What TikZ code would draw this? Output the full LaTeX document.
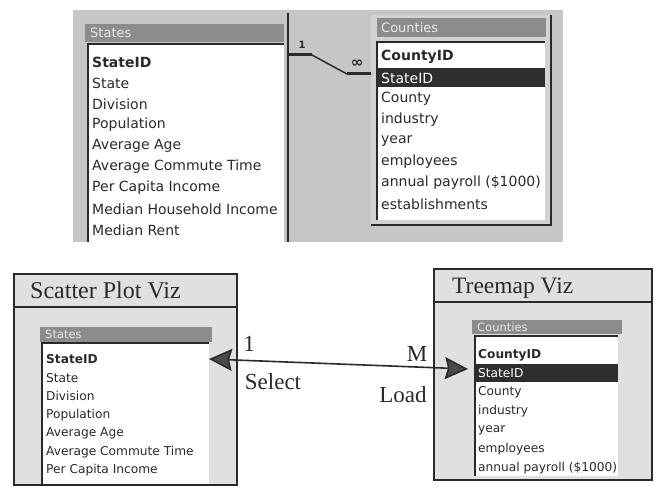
\documentclass[tikz,border=0pt]{standalone}
\usepackage{fontspec}
\setmainfont{Liberation Serif}
\newfontfamily\winfont{DejaVu Sans}
\usetikzlibrary{arrows.meta,calc}
\definecolor{panelgray}{HTML}{C6C6C6}
\definecolor{framegray}{HTML}{D2D2D2}
\definecolor{bargray}{HTML}{8C8C8C}
\definecolor{bartext}{HTML}{E8E8E8}
\definecolor{hlgray}{HTML}{2E2E2E}
\definecolor{vizgray}{HTML}{E0E0E0}
\definecolor{ink}{HTML}{2A2A2A}
\definecolor{headgray}{HTML}{4A4A4A}
\begin{document}
\begin{tikzpicture}[x=1pt,y=-1pt,
  rect/.style={anchor=north west, inner sep=0pt, outer sep=0pt},
  listbox/.style={rect, fill=white},
  titlebar/.style={rect, fill=bargray},
  hlrow/.style={rect, fill=hlgray},
  bigitem/.style={anchor=west, inner sep=0pt, text=ink, font=\winfont\fontsize{14}{14}\selectfont},
  smallitem/.style={anchor=west, inner sep=0pt, text=ink, font=\winfont\fontsize{12.2}{12}\selectfont},
  bigtitle/.style={anchor=west, inner sep=0pt, text=bartext, font=\winfont\fontsize{13}{13}\selectfont},
  smalltitle/.style={anchor=west, inner sep=0pt, text=bartext, font=\winfont\fontsize{11.5}{11.5}\selectfont},
  vizbox/.style={rect, fill=vizgray, draw=ink, line width=2.5pt},
  vizname/.style={anchor=base west, inner sep=0pt, text=ink, font=\fontsize{24}{24}\selectfont},
  arrlabel/.style={inner sep=0pt, text=ink, font=\fontsize{23}{23}\selectfont},
  sunken/.style={draw=ink, line width=1.5pt},
  relline/.style={draw=ink, line width=1.5pt},
  relstub/.style={draw=ink, line width=3pt},
  linkarrow/.style={draw=ink, line width=1.6pt,
    {Stealth[length=23pt,width=22pt,inset=3pt,fill=headgray]}-{Stealth[length=23pt,width=22pt,inset=3pt,fill=headgray]}}
]
\useasboundingbox (0,0) rectangle (657,487);
\fill[white] (0,0) rectangle (657,487);

% ---------- top: Access relationship screenshot ----------
\node[rect, fill=panelgray, minimum width=490, minimum height=232] (toppanel) at (73,10) {};

% States window
\node[titlebar, minimum width=199, minimum height=18] (tst) at (85,24) {};
\node[bigtitle] (tstT) at (90,33) {States};
\node[listbox, minimum width=196, minimum height=198] (tsl) at (88,44) {};
\draw[sunken] (tsl.south west) -- (tsl.north west) -- (tsl.north east);
\draw[ink, line width=2pt] (288,13) -- (288,242);
\node[bigitem, font=\winfont\bfseries\fontsize{14}{14}\selectfont] (ts1) at (92,62) {StateID};
\node[bigitem] (ts2) at (92,83) {State};
\node[bigitem] (ts3) at (92,104) {Division};
\node[bigitem] (ts4) at (92,125) {Population};
\node[bigitem] (ts5) at (92,146) {Average Age};
\node[bigitem] (ts6) at (92,167) {Average Commute Time};
\node[bigitem] (ts7) at (92,188) {Per Capita Income};
\node[bigitem] (ts8) at (92,209) {Median Household Income};
\node[bigitem] (ts9) at (92,230) {Median Rent};

% Counties window
\node[rect, fill=framegray, minimum width=180, minimum height=210] (tcw) at (371,15) {};
\draw[ink, line width=1.5pt] (tcw.north east) -- (tcw.south east) -- (tcw.south west);
\node[titlebar, minimum width=169, minimum height=19] (tct) at (377,18) {};
\node[bigtitle] (tctT) at (381,27.5) {Counties};
\node[listbox, minimum width=168, minimum height=178] (tcl) at (377,42) {};
\draw[sunken] (tcl.south west) -- (tcl.north west) -- (tcl.north east);
\node[hlrow, minimum width=168, minimum height=19] (tcsid) at (377,68) {};
\node[bigitem, font=\winfont\bfseries\fontsize{14}{14}\selectfont] (tc1) at (381,57) {CountyID};
\node[bigitem, text=white] (tc2) at (381,78) {StateID};
\node[bigitem] (tc3) at (381,99) {County};
\node[bigitem] (tc4) at (381,120) {industry};
\node[bigitem] (tc5) at (381,141) {year};
\node[bigitem] (tc6) at (381,162) {employees};
\node[bigitem] (tc7) at (381,183) {annual payroll (\$1000)};
\node[bigitem] (tc8) at (381,204) {establishments};

% relationship line
\coordinate (relA) at (288,55);
\coordinate (relB) at (tcw.west |- 0,74);
\draw[relline] (relA) -- ($(relA)+(24,0)$) -- ($(relB)+(-24,0)$) -- (relB);
\draw[relstub] (relA) -- ($(relA)+(24,0)$);
\draw[relstub] ($(relB)+(-24,0)$) -- (relB);
\node[inner sep=0pt, text=ink, font=\winfont\bfseries\fontsize{10}{10}\selectfont] (one) at (302,45) {1};
\node[inner sep=0pt, text=ink, font=\winfont\bfseries\fontsize{15}{15}\selectfont] (many) at (357,64) {∞};

% ---------- bottom: coordinated views ----------
% Scatter Plot Viz
\node[vizbox, minimum width=223, minimum height=211] (scat) at (14,274) {};
\draw[ink, line width=2pt] (scat.west |- 0,307) -- (scat.east |- 0,307);
\node[vizname] (scatT) at (30,298) {Scatter Plot Viz};
\node[titlebar, minimum width=172, minimum height=15] (bst) at (40,327) {};
\node[smalltitle] (bstT) at (45,334.5) {States};
\node[listbox, minimum width=167, minimum height=141] (bsl) at (42,343) {};
\draw[sunken, line width=1.2pt] (bsl.south west) -- (bsl.north west) -- (bsl.north east);
\node[smallitem, font=\winfont\bfseries\fontsize{12.2}{12}\selectfont] (bs1) at (46,359) {StateID};
\node[smallitem] (bs2) at (46,377.6) {State};
\node[smallitem] (bs3) at (46,396.2) {Division};
\node[smallitem] (bs4) at (46,414.8) {Population};
\node[smallitem] (bs5) at (46,433.4) {Average Age};
\node[smallitem] (bs6) at (46,452) {Average Commute Time};
\node[smallitem] (bs7) at (46,470.6) {Per Capita Income};

% Treemap Viz
\node[vizbox, minimum width=218, minimum height=211] (tree) at (434,269) {};
\draw[ink, line width=2pt] (tree.west |- 0,302) -- (tree.east |- 0,302);
\node[vizname, font=\fontsize{23.5}{23.5}\selectfont] (treeT) at (452,293) {Treemap Viz};
\node[titlebar, minimum width=150, minimum height=14] (bct) at (472,320) {};
\node[smalltitle] (bctT) at (477,327) {Counties};
\node[listbox, minimum width=143, minimum height=140] (bcl) at (475,336) {};
\draw[sunken, line width=1.2pt] (bcl.south west) -- (bcl.north west) -- (bcl.north east);
\node[hlrow, minimum width=143, minimum height=18] (bcsid) at (475,364) {};
\node[smallitem, font=\winfont\bfseries\fontsize{12.2}{12}\selectfont] (bc1) at (478,355) {CountyID};
\node[smallitem, text=white] (bc2) at (478,373) {StateID};
\node[smallitem] (bc3) at (478,392) {County};
\node[smallitem] (bc4) at (478,411) {industry};
\node[smallitem] (bc5) at (478,430) {year};
\node[smallitem] (bc6) at (478,449) {employees};
\node[smallitem] (bc7) at (478,468) {annual payroll (\$1000)};

% link between the views
\draw[linkarrow] (bsl.east |- bs1) -- ([shift={(-7pt,4pt)}]bcsid.west);
\node[arrlabel] (lab1) at (249,344) {1};
\node[arrlabel] (labSel) at (273,382) {Select};
\node[arrlabel] (labM) at (417,354) {M};
\node[arrlabel] (labLoad) at (403,395) {Load};
\end{tikzpicture}
\end{document}
